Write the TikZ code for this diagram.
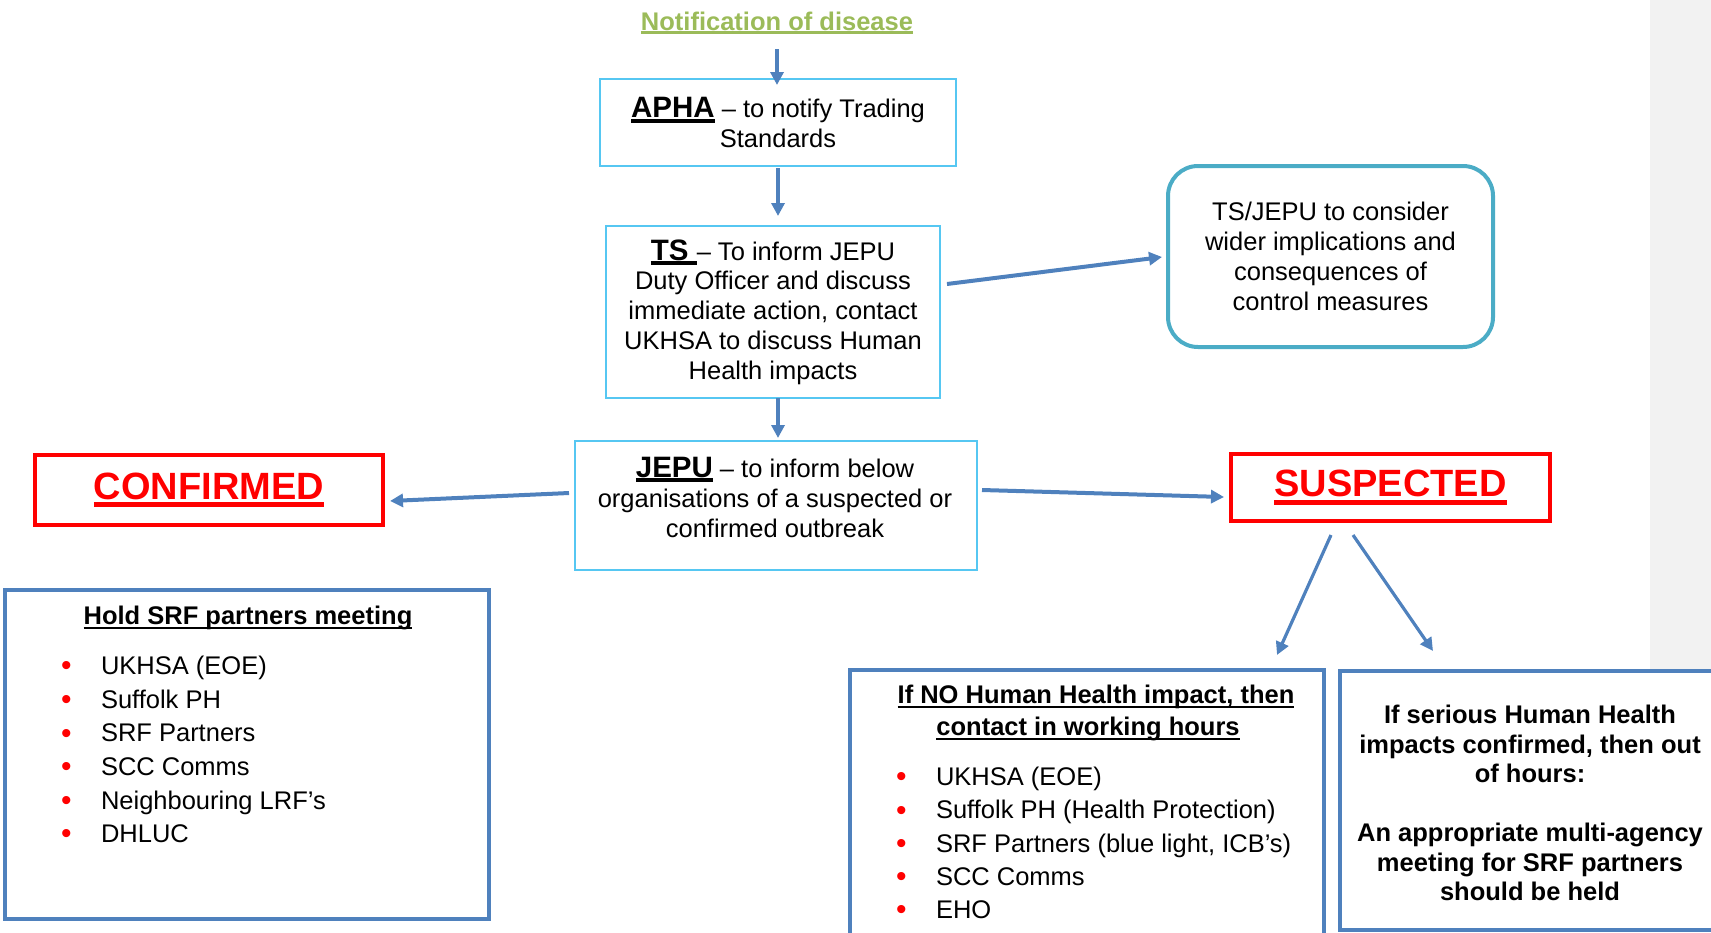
\documentclass[tikz,border=0pt]{standalone}
\usepackage{fontspec}
\setmainfont{Liberation Sans}
\usetikzlibrary{arrows.meta,calc}
\definecolor{lblue}{RGB}{86,199,242}
\definecolor{tealb}{RGB}{75,172,198}
\definecolor{steel}{RGB}{79,129,189}
\definecolor{arrowblue}{RGB}{79,129,189}
\definecolor{pgreen}{RGB}{155,187,89}
\definecolor{pred}{RGB}{255,0,0}
\definecolor{stripgray}{RGB}{242,242,242}
\newcommand\myul[3]{\leavevmode\setbox0\hbox{#3}\rlap{\vrule width \wd0 height -#1 depth #2}\box0\relax}
\newcommand\bodyfont{\fontsize{12.75}{14.9}\selectfont}
\newcommand\headfont{\fontsize{14.75}{15}\selectfont\bfseries}
\newcommand\bigfont{\fontsize{19}{22}\selectfont\bfseries}
\newcommand\bitem[1]{\makebox[19.5pt][l]{\hspace*{-0.5pt}\raisebox{-0.6pt}{\fontsize{15}{15}\selectfont\textcolor{pred}{•}}}#1}
\begin{document}
\begin{tikzpicture}[x=0.5pt,y=-0.5pt,
  lbox/.style={draw=lblue,line width=1pt,inner sep=0pt,outer sep=0pt,align=center,font=\bodyfont},
  consbox/.style={draw=tealb,line width=2pt,rounded corners=15pt,inner sep=0pt,outer sep=0pt,align=center,font=\fontsize{12.75}{15}\selectfont},
  redbox/.style={draw=pred,line width=2.2pt,inner sep=0pt,outer sep=0pt,font=\bigfont,text=pred},
  sbox/.style={draw=steel,line width=2.2pt,inner sep=0pt,outer sep=0pt,fill=white},
  txt/.style={inner sep=0pt,outer sep=0pt,align=center},
  arr/.style={draw=arrowblue,line width=2pt,-{Triangle[length=6.5pt,width=6.5pt]}},
  darr/.style={draw=arrowblue,line width=1.6pt,-{Triangle[length=6.5pt,width=6.5pt]}}]
\useasboundingbox (0,0) rectangle (1711,932);
\clip (0,0) rectangle (1711,932);
\fill[stripgray] (1650,0) rectangle (1711,671);

% title
\node[txt,font=\bodyfont\bfseries,text=pgreen] (notif) at (777,23)
  {\myul{0.5pt}{1.9pt}{Notification of disease}};

% top chain
\node[lbox,minimum width=178pt,minimum height=43.5pt] (apha) at (778,122.5)
  {\myul{0.6pt}{2.6pt}{\headfont APHA} – to notify Trading\\Standards};
\node[lbox,minimum width=167pt,minimum height=86pt] (ts) at (773,312)
  {\myul{0.6pt}{2.6pt}{\headfont TS\ }– To inform JEPU\\Duty Officer and discuss\\immediate action, contact\\UKHSA to discuss Human\\Health impacts};
\node[consbox,minimum width=162.5pt,minimum height=90.5pt] (cons) at (1330.5,256.5)
  {TS/JEPU to consider\\wider implications and\\consequences of\\control measures};
\node[lbox,minimum width=201pt,minimum height=64.5pt] (jepu) at (776,505.5) {};
\node[txt,font=\fontsize{12.75}{15.2}\selectfont] (jepuT) at (775,497.5)
  {\myul{0.6pt}{2.6pt}{\headfont JEPU} – to inform below\\organisations of a suspected or\\confirmed outbreak};

% red boxes
\node[redbox,minimum width=174pt,minimum height=35pt] (conf) at (209,490)
  {\myul{1.4pt}{3.9pt}{CONFIRMED}};
\node[redbox,minimum width=159.5pt,minimum height=33.5pt] (susp) at (1390.5,487.5)
  {\myul{1.4pt}{3.9pt}{SUSPECTED}};

% bottom boxes
\node[sbox,minimum width=242pt,minimum height=164.5pt] (srf) at (247,754.5) {};
\node[txt,font=\bodyfont\bfseries] (srfT) at (248,618)
  {\myul{1.2pt}{2.4pt}{Hold SRF partners meeting}};
\node[txt,align=left,anchor=west,font=\fontsize{12.75}{16.8}\selectfont] (srfL) at (62,750)
  {\bitem{UKHSA (EOE)}\\\bitem{Suffolk PH}\\\bitem{SRF Partners}\\\bitem{SCC Comms}\\\bitem{Neighbouring LRF’s}\\\bitem{DHLUC}};

\node[sbox,minimum width=237pt,minimum height=150pt] (nobox) at (1087,820) {};
\node[txt,font=\fontsize{12.75}{16}\selectfont\bfseries] (noT) at (1096,713)
  {\myul{1.2pt}{2.4pt}{If NO Human Health impact, then}\\\myul{1.2pt}{2.4pt}{contact in working hours}\hspace*{8pt}};
\node[txt,align=left,anchor=west,font=\fontsize{12.75}{16.6}\selectfont] (noL) at (897,843.5)
  {\bitem{UKHSA (EOE)}\\\bitem{Suffolk PH (Health Protection)}\\\bitem{SRF Partners (blue light, ICB’s)}\\\bitem{SCC Comms}\\\bitem{EHO}};

\node[sbox,minimum width=191pt,minimum height=129.5pt] (ser) at (1531,800.5) {};
\node[txt,font=\fontsize{12.75}{14.75}\selectfont\bfseries] (serT) at (1530,803)
  {If serious Human Health\\impacts confirmed, then out\\of hours:\\[14.75pt]An appropriate multi-agency\\meeting for SRF partners\\should be held};

% connectors
\draw[arr] ($(notif.south)+(0,15)$) -- ($(apha.north)+(-1,6)$);
\draw[arr] ($(apha.south)+(0,2)$) -- ($(ts.north)+(5,-10)$);
\draw[arr] ($(ts.east)+(7,-28)$) -- ($(cons.west)+(-6,0.5)$);
\draw[arr] ($(ts.south)+(5,0)$) -- ($(jepu.north)+(2,-3)$);
\draw[arr] ($(jepu.west)+(-6,-12.5)$) -- ($(conf.east)+(7,11)$);
\draw[arr] ($(jepu.east)+(5,-15.5)$) -- ($(susp.west)+(-7,9.5)$);
\draw[darr] ($(susp.south)+(-59.5,14)$) -- ($(nobox.north)+(190,-15)$);
\draw[darr] ($(susp.south)+(-37.5,14)$) -- ($(ser.north)+(-98,-20)$);
\end{tikzpicture}
\end{document}
